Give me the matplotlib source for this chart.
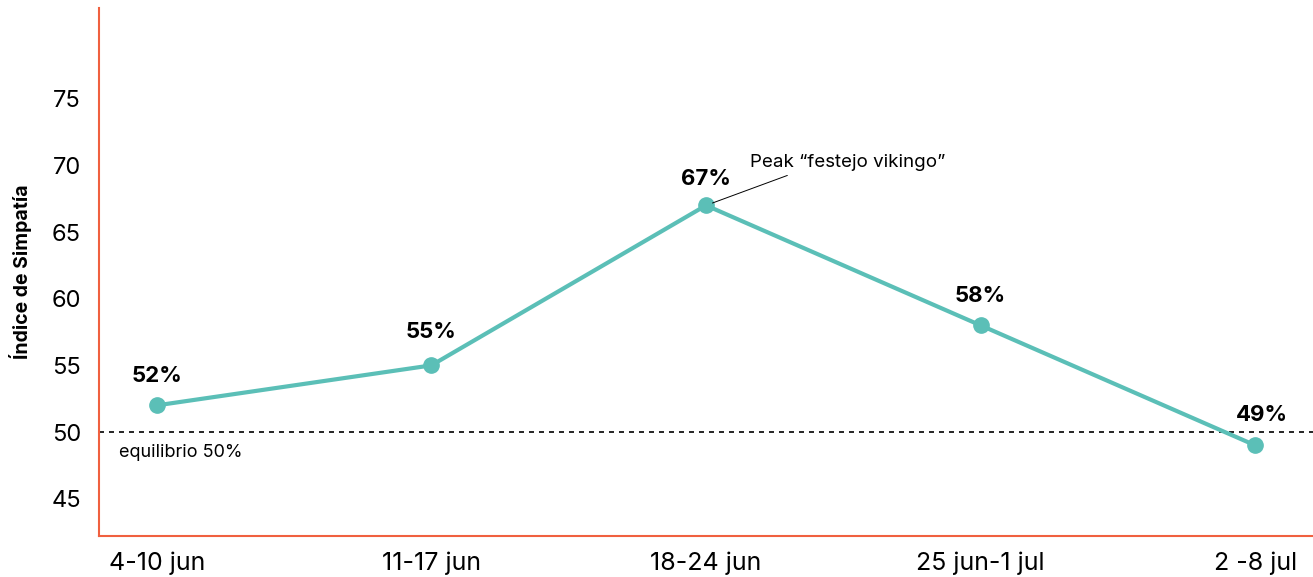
import matplotlib.pyplot as plt

plt.rcParams['font.family'] = ['Inter', 'DejaVu Sans']

semanas = ["4-10 jun", "11-17 jun", "18-24 jun", "25 jun-1 jul", "2 -8 jul"]
simpatia = [52, 55, 67, 58, 49]
etiquetas = ["52%", "55%", "67%", "58%", "49%"]
yticks = [45, 50, 55, 60, 65, 70, 75]

teal = "#5BBFB7"
rojo = "#F0603F"

fig = plt.figure(figsize=(13.13, 5.77), dpi=100)
ax = fig.add_axes([0.0754, 0.071, 0.9246, 0.915])

x = list(range(len(semanas)))
ax.plot(x, simpatia, color=teal, lw=3, marker="o", markersize=11, zorder=3)

ax.axhline(50, color="black", lw=1.2, ls=(0, (3, 3)), zorder=2)
ax.text(-0.138, 48.5, "equilibrio 50%", fontsize=13, va="center", ha="left")

offs = [21, 24, 19, 21, 22]
dx = [0, 0, 0, 0, 5]
for i, (v, lab) in enumerate(zip(simpatia, etiquetas)):
    ax.annotate(lab, (i, v), xytext=(dx[i], offs[i]), textcoords="offset points",
                ha="center", va="center", fontsize=16, fontweight="bold")

ax.annotate("Peak \u201cfestejo vikingo\u201d", xy=(2, 67), xytext=(2.16, 70.2),
            fontsize=13.5, ha="left", va="center",
            arrowprops=dict(arrowstyle="-", color="black", lw=0.7,
                            relpos=(0.25, 0), shrinkA=3, shrinkB=5))

ax.set_xlim(-0.21, 4.21)
ax.set_ylim(42.2, 81.8)
ax.set_xticks(x)
ax.set_xticklabels(semanas, fontsize=18)
ax.set_yticks(yticks)
ax.set_yticklabels([str(t) for t in yticks], fontsize=17)
ax.tick_params(axis="both", length=0)
ax.tick_params(axis="x", pad=11)
ax.tick_params(axis="y", pad=13)
ax.set_ylabel("Índice de Simpatía", fontsize=14, fontweight="bold", labelpad=14)

for s in ["top", "right"]:
    ax.spines[s].set_visible(False)
for s in ["left", "bottom"]:
    ax.spines[s].set_color(rojo)
    ax.spines[s].set_linewidth(1.5)

fig.savefig("out.png", dpi=100)
